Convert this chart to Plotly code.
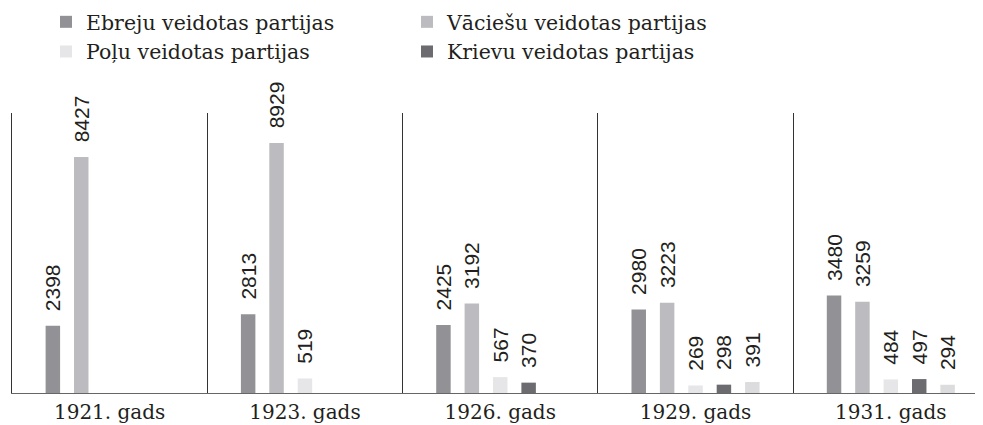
import plotly.graph_objects as go

categories = ["1921. gads", "1923. gads", "1926. gads", "1929. gads", "1931. gads"]
ebreju = [2398, 2813, 2425, 2980, 3480]
vaciesu = [8427, 8929, 3192, 3223, 3259]
polu = [None, 519, 567, 269, 484]
krievu = [None, None, 370, 298, 497]
citas = [None, None, None, 391, 294]

series = [
    ("Ebreju veidotas partijas", ebreju, "#929296", True),
    ("Vāciešu veidotas partijas", vaciesu, "#bcbcc0", True),
    ("Poļu veidotas partijas", polu, "#e6e6e8", True),
    ("Krievu veidotas partijas", krievu, "#6b6b70", True),
    ("Citas partijas", citas, "#dcdcde", False),
]

fig = go.Figure()
for name, vals, color, show in series:
    fig.add_trace(go.Bar(
        x=categories, y=vals, name=name, marker_color=color, marker_line_width=0,
        showlegend=show,
        text=[None if v is None else str(v) for v in vals],
        texttemplate="\u00a0\u00a0%{text}",
        textposition="outside", textangle=-90, constraintext="none", cliponaxis=False,
        textfont=dict(family="Liberation Sans, Arial, sans-serif", size=21, color="#231f20"),
    ))

# page body has an 8px margin, so the figure is offset by 8px
W, H = 975, 417
T, B = 105, 32
plot_h = H - T - B
fig.update_layout(
    width=W, height=H,
    margin=dict(l=4, r=0, t=T, b=B, autoexpand=False),
    paper_bgcolor="white", plot_bgcolor="white",
    barmode="group", bargap=0.273, bargroupgap=0.49,
    font=dict(family="DejaVu Serif, serif", size=20, color="#231f20"),
    legend=dict(
        orientation="h", xref="container", yref="paper",
        x=38 / W, y=1 + (T + 6) / plot_h, xanchor="left", yanchor="top",
        entrywidthmode="pixels", entrywidth=316, itemwidth=30,
        font=dict(family="DejaVu Serif, serif", size=20.5, color="#231f20"),
        bgcolor="rgba(0,0,0,0)",
    ),
    xaxis=dict(
        type="category", range=[-0.5, 4.472],
        showline=True, linecolor="#666", linewidth=1,
        showgrid=True, gridcolor="#333", gridwidth=1, tickson="boundaries",
        ticks="", ticklabelstandoff=1,
        tickfont=dict(family="DejaVu Serif, serif", size=20, color="#231f20"),
    ),
    yaxis=dict(
        range=[0, 10000], showgrid=False, zeroline=False, showticklabels=False,
        showline=True, linecolor="#333", linewidth=1, ticks="",
    ),
)

fig.write_html("out.html")
